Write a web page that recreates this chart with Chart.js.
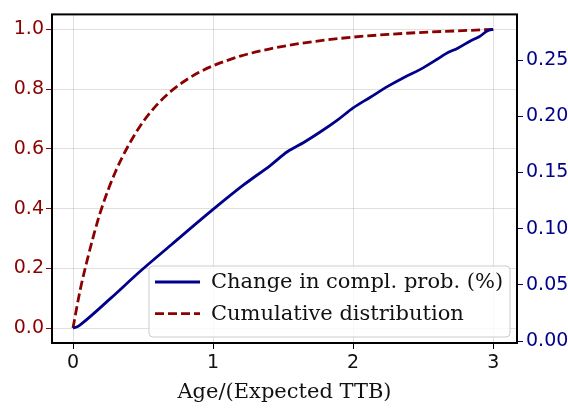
<!DOCTYPE html>
<html>
<head>
<meta charset="utf-8">
<script src="https://cdn.jsdelivr.net/npm/chart.js@4"></script>
<style>
  html, body { margin: 0; padding: 0; background: #fff; }
  #wrap { width: 568px; height: 409px; }
</style>
</head>
<body>
<div id="wrap"><canvas id="age_chart" width="568" height="409"></canvas></div>
<script>
// values
var blueAge = [0, 0.03, 0.06, 0.27, 0.48, 0.7, 1.0, 1.22, 1.41, 1.53, 1.65, 1.77, 1.89, 2.0, 2.12, 2.25, 2.36, 2.48, 2.6, 2.66, 2.75, 2.84, 2.9, 2.96, 3.0];
var changeProb = [0.0116, 0.0127, 0.0153, 0.0382, 0.0621, 0.0855, 0.1171, 0.1391, 0.1564, 0.1684, 0.1769, 0.1864, 0.1968, 0.2074, 0.2167, 0.2268, 0.2343, 0.2417, 0.2507, 0.2555, 0.2608, 0.2672, 0.2707, 0.2760, 0.2773];

var redAge = [0, 0.05, 0.1, 0.15, 0.2, 0.3, 0.4, 0.5, 0.6, 0.7, 0.8, 0.9, 1.0, 1.2, 1.4, 1.6, 1.8, 2.0, 2.25, 2.5, 2.75, 3.0];
var cumulative = [0, 0.125, 0.225, 0.315, 0.395, 0.52, 0.615, 0.69, 0.748, 0.793, 0.828, 0.856, 0.878, 0.911, 0.934, 0.951, 0.964, 0.974, 0.983, 0.99, 0.995, 1.0];

var xTicks = [0, 1, 2, 3];
var leftTicks = [0, 0.2, 0.4, 0.6, 0.8, 1.0];
var rightTicks = [0, 0.05, 0.1, 0.15, 0.2, 0.25];

var blueColor = '#00008b';
var redColor = '#8b0000';

function toPoints(xs, ys) {
    return xs.map(function(x, i) { return {x: x, y: ys[i]}; });
}

// matplotlib-like legend inside the plot, lower right
var boxLegend = {
    id: 'boxLegend',
    afterDatasetsDraw: function(chart) {
        var ctx = chart.ctx, area = chart.chartArea;
        var w = 361, h = 71;
        var x0 = area.right - 7 - w, y0 = area.bottom - 6 - h;
        ctx.save();
        ctx.beginPath();
        ctx.roundRect(x0, y0, w, h, 4);
        ctx.fillStyle = 'rgba(255,255,255,0.8)';
        ctx.fill();
        ctx.strokeStyle = '#cccccc';
        ctx.lineWidth = 1;
        ctx.stroke();
        ctx.font = '21px "DejaVu Serif"';
        ctx.textBaseline = 'middle';
        chart.data.datasets.forEach(function(ds, i) {
            var y = y0 + 16 + i * 31.6;
            ctx.beginPath();
            ctx.setLineDash(ds.borderDash || []);
            ctx.strokeStyle = ds.borderColor;
            ctx.lineWidth = ds.borderWidth;
            ctx.moveTo(x0 + 6, y);
            ctx.lineTo(x0 + 51, y);
            ctx.stroke();
            ctx.setLineDash([]);
            ctx.fillStyle = '#111';
            ctx.fillText(ds.label, x0 + 62, y + 1);
        });
        ctx.restore();
    },
    afterDraw: function(chart) {
        var ctx = chart.ctx, a = chart.chartArea;
        ctx.save();
        ctx.strokeStyle = '#000';
        ctx.lineWidth = 2;
        ctx.strokeRect(a.left, a.top, a.right - a.left, a.bottom - a.top);
        ctx.restore();
    }
};

var chartData = {
    datasets: [
        {
            label: 'Change in compl. prob. (%)',
            data: toPoints(blueAge, changeProb),
            borderColor: blueColor,
            backgroundColor: blueColor,
            borderWidth: 2.8,
            pointRadius: 0,
            cubicInterpolationMode: 'monotone',
            yAxisID: 'y1'
        },
        {
            label: 'Cumulative distribution',
            data: toPoints(redAge, cumulative),
            borderColor: redColor,
            backgroundColor: redColor,
            borderWidth: 2.8,
            borderDash: [9, 4],
            pointRadius: 0,
            cubicInterpolationMode: 'monotone',
            yAxisID: 'y'
        }
    ]
};

var tickFont = {family: '"DejaVu Sans"', size: 19};

var chartOptions = {
    responsive: false,
    animation: false,
    layout: {padding: {top: 6, left: 0, right: 0, bottom: 0}},
    plugins: {legend: {display: false}, tooltip: {enabled: false}},
    scales: {
        x: {
            type: 'linear',
            min: -0.15,
            max: 3.17,
            afterBuildTicks: function(s) { s.ticks = xTicks.map(function(v) { return {value: v}; }); },
            afterFit: function(s) { s.height = 66; },
            ticks: {color: '#111', font: tickFont, padding: 3, maxRotation: 0,
                    callback: function(v) { return String(v); }},
            grid: {color: 'rgba(0,0,0,0.12)', tickColor: '#000', tickLength: 6},
            border: {display: false},
            title: {display: true, text: 'Age/(Expected TTB)', color: '#111',
                    font: {family: '"DejaVu Serif"', size: 21}, padding: {top: 0, bottom: 4}}
        },
        y: {
            position: 'left',
            min: -0.05,
            max: 1.05,
            afterBuildTicks: function(s) { s.ticks = leftTicks.map(function(v) { return {value: v}; }); },
            afterFit: function(s) { s.width = 52; },
            ticks: {color: redColor, font: tickFont, padding: 2,
                    callback: function(v) { return v.toFixed(1); }},
            grid: {color: 'rgba(0,0,0,0.12)', tickColor: redColor, tickLength: 6},
            border: {display: false}
        },
        y1: {
            position: 'right',
            min: -0.0017,
            max: 0.2906,
            afterBuildTicks: function(s) { s.ticks = rightTicks.map(function(v) { return {value: v}; }); },
            afterFit: function(s) { s.width = 51; },
            ticks: {color: blueColor, font: tickFont, padding: 3,
                    callback: function(v) { return v.toFixed(2); }},
            grid: {drawOnChartArea: false, tickColor: blueColor, tickLength: 6},
            border: {display: false}
        }
    }
};

var ctx = document.getElementById('age_chart');
new Chart(ctx, {type: 'line', data: chartData, options: chartOptions, plugins: [boxLegend]});
</script>
</body>
</html>
